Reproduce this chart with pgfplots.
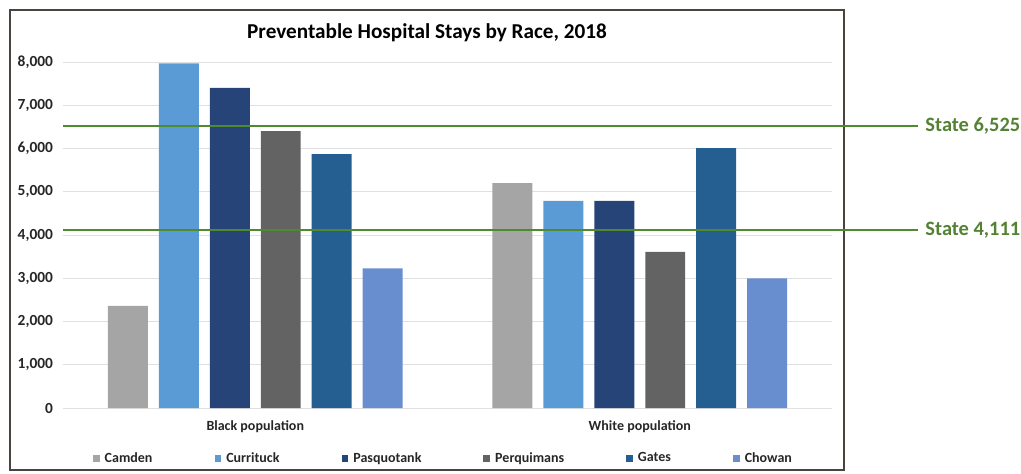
\documentclass[border=0pt]{standalone}
\usepackage{pgfplots}
\pgfplotsset{compat=1.18}
\usepackage{fontspec}
\setmainfont{Carlito}
\definecolor{cCamden}{HTML}{A5A5A5}
\definecolor{cCurrituck}{HTML}{5B9BD5}
\definecolor{cPasquotank}{HTML}{264478}
\definecolor{cPerquimans}{HTML}{636363}
\definecolor{cGates}{HTML}{255E91}
\definecolor{cChowan}{HTML}{698ED0}
\definecolor{cGreen}{HTML}{4F8A2E}
\definecolor{cGreenText}{HTML}{548235}
\definecolor{cBox}{HTML}{4A4440}
\definecolor{cGrid}{HTML}{E0E0E0}
\definecolor{cText}{HTML}{262626}
\pgfplotsset{mylegend/.style={legend image code/.code={\fill[##1] (0pt,-1.7pt) rectangle (3.4pt,1.7pt);}}}
\begin{document}
\begin{tikzpicture}
\useasboundingbox (0,0) rectangle (510.5pt,-236.5pt);
\draw[color=cBox, line width=0.6pt] (5pt,-5pt) rectangle (422pt,-235pt);
\node[font=\fontsize{10.6}{12}\selectfont\bfseries, text=black] at (213.5pt,-16.5pt) {Preventable Hospital Stays by Race, 2018};
\begin{axis}[
  at={(31.5pt,-204pt)}, anchor=south west, scale only axis,
  width=384.5pt, height=173pt,
  xmin=-0.5, xmax=1.5, ymin=0, ymax=8000,
  ytick={0,1000,...,8000}, xtick=\empty,
  ymajorgrids, grid style={color=cGrid, line width=0.5pt},
  axis line style={draw=none}, major tick length=0pt,
  yticklabel style={font=\fontsize{7.7}{9}\selectfont\bfseries, text=cText, xshift=-1.5pt},
  /pgf/number format/1000 sep={,},
  /pgf/number format/assume math mode=true,
  scaled y ticks=false,
  ybar, bar width=0.104, bar shift=0pt,
  clip=false,
  legend columns=6,
  legend style={at={(0.496,-0.147)}, anchor=center, draw=none, fill=none,
    font=\fontsize{7}{8}\selectfont\bfseries, text=cText,
    /tikz/every even column/.append style={column sep=29pt},
    /tikz/every odd column/.append style={column sep=0.5pt}},
]
\addplot[fill=cCamden, draw=none, mylegend] coordinates {(-0.3315,2360) (0.6685,5200)};
\addlegendentry{Camden}
\addplot[fill=cCurrituck, draw=none, mylegend] coordinates {(-0.1989,7970) (0.8011,4790)};
\addlegendentry{Currituck}
\addplot[fill=cPasquotank, draw=none, mylegend] coordinates {(-0.0663,7400) (0.9337,4790)};
\addlegendentry{Pasquotank}
\addplot[fill=cPerquimans, draw=none, mylegend] coordinates {(0.0663,6400) (1.0663,3610)};
\addlegendentry{Perquimans}
\addplot[fill=cGates, draw=none, mylegend] coordinates {(0.1989,5870) (1.1989,6010)};
\addlegendentry{Gates}
\addplot[fill=cChowan, draw=none, mylegend] coordinates {(0.3315,3230) (1.3315,3000)};
\addlegendentry{Chowan}
\addplot[forget plot, sharp plot, mark=none, color=cGreen, line width=1pt] coordinates {(-0.5,6525) (1.7237,6525)};
\addplot[forget plot, sharp plot, mark=none, color=cGreen, line width=1pt] coordinates {(-0.5,4111) (1.7237,4111)};
\node[anchor=west, inner sep=0pt, text=cGreenText, font=\fontsize{10.2}{12}\selectfont\bfseries] at (axis cs:1.742,6525) {State 6,525};
\node[anchor=west, inner sep=0pt, text=cGreenText, font=\fontsize{10.2}{12}\selectfont\bfseries] at (axis cs:1.742,4111) {State 4,111};
\node[font=\fontsize{7}{8}\selectfont\bfseries, text=cText, yshift=-9.5pt] at (axis cs:0,0) {Black population};
\node[font=\fontsize{7}{8}\selectfont\bfseries, text=cText, yshift=-9.5pt] at (axis cs:1,0) {White population};
\end{axis}
\end{tikzpicture}
\end{document}
